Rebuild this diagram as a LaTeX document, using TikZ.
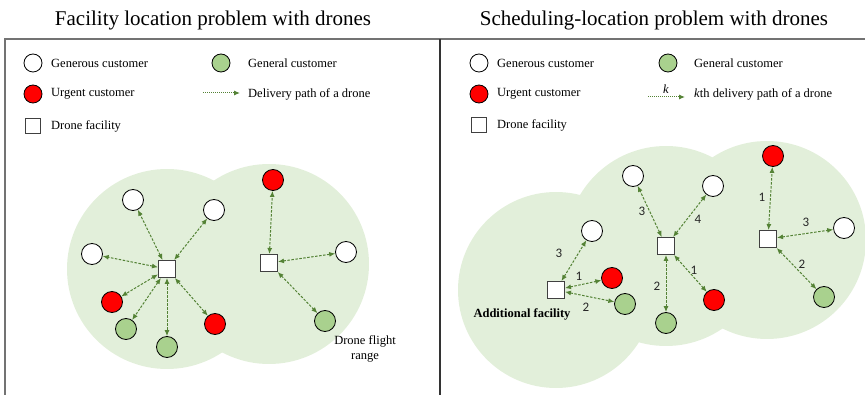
\documentclass[tikz,border=0pt]{standalone}
\usepackage{fontspec}
\setmainfont{Liberation Serif}
\newfontfamily\numfont{Carlito}
\usetikzlibrary{arrows.meta}
\definecolor{rangeg}{HTML}{E2EFDA}
\definecolor{genc}{HTML}{A9D18E}
\definecolor{pathc}{HTML}{548235}
\definecolor{urgc}{HTML}{FF0000}
\begin{document}
\begin{tikzpicture}[x=1pt,y=-1pt,
  cust/.style={circle,draw=black,line width=0.8pt,minimum size=21pt,inner sep=0pt},
  gen/.style={cust,fill=white},
  urg/.style={cust,fill=urgc},
  grl/.style={cust,fill=genc},
  lgen/.style={gen,minimum size=18pt},
  lurg/.style={urg,minimum size=18pt},
  lgrl/.style={grl,minimum size=18pt},
  fac/.style={rectangle,draw=black!75,line width=1pt,fill=white,minimum size=17pt,inner sep=0pt},
  lfac/.style={fac,minimum size=15pt},
  route/.style={pathc,line width=1pt,dash pattern=on 2.5pt off 1.5pt,{Latex[length=6pt,width=5pt]}-{Latex[length=6pt,width=5pt]}},
  lroute/.style={pathc,line width=1pt,dash pattern=on 1pt off 1pt,-{Latex[length=6pt,width=5pt]}},
  lbl/.style={font=\fontsize{12.5}{15}\selectfont,anchor=west,inner sep=0pt},
  num/.style={font=\numfont\fontsize{13}{15}\selectfont,text=black!85,inner sep=0pt},
  ttl/.style={font=\fontsize{21}{24}\selectfont,inner sep=0pt},
]
\useasboundingbox (0,0) rectangle (865,395);
% frame
\draw[black!55,line width=1.5pt] (5,395) -- (5,39) -- (865,39);
\draw[black!80,line width=1.2pt] (440,39) -- (440,395);
% titles
\node[ttl] (t1) at (213,20) {Facility location problem with drones};
\node[ttl] (t2) at (654,20) {Scheduling-location problem with drones};
% ranges
\fill[rangeg] (167,269) circle (100pt);
\fill[rangeg] (269,264) circle (100pt);
\fill[rangeg] (556,290) circle (98pt);
\fill[rangeg] (666,246) circle (100pt);
\fill[rangeg] (767,240) circle (99pt);
% legend left
\node[lgen] (lg1) at (33,63) {};
\node[lbl] (lt1) at (51,63) {Generous customer};
\node[lgrl] (lg2) at (221,63) {};
\node[lbl] (lt2) at (248,63) {General customer};
\node[lurg] (lg3) at (33,94) {};
\node[lbl] (lt3) at (51,94) {Urgent customer};
\coordinate (la1) at (203,93);
\coordinate (la2) at (240,93);
\draw[lroute] (la1) -- (la2);
\node[lbl] (lt4) at (248,94) {Delivery path of a drone};
\node[lfac] (lg5) at (33,126) {};
\node[lbl] (lt5) at (51,126) {Drone facility};
% legend right
\node[lgen] (rg1) at (479,63) {};
\node[lbl] (rt1) at (497,63) {Generous customer};
\node[lgrl] (rg2) at (668,63) {};
\node[lbl] (rt2) at (694,63) {General customer};
\node[lurg] (rg3) at (479,94) {};
\node[lbl] (rt3) at (497,94) {Urgent customer};
\coordinate (ra1) at (648,97);
\coordinate (ra2) at (685,97);
\draw[lroute] (ra1) -- (ra2);
\node[lbl,anchor=center] (rk) at (666,89) {\itshape k};
\node[lbl] (rt4) at (694,94) {\textit{k}th delivery path of a drone};
\node[lfac] (rg5) at (479,125) {};
\node[lbl] (rt5) at (497,125) {Drone facility};
% left diagram
\node[fac] (F1) at (167,269) {};
\node[gen] (a1) at (133,200) {};
\node[gen] (a2) at (214,210) {};
\node[gen] (a3) at (92,254) {};
\node[urg] (r1) at (112,302) {};
\node[grl] (g1) at (126,329) {};
\node[grl] (g2) at (167,347) {};
\node[urg] (r2) at (215,324) {};
\node[fac] (F2) at (269,263) {};
\node[urg] (r3) at (273,180) {};
\node[gen] (a4) at (346,252) {};
\node[grl] (g3) at (325,321) {};
\foreach \n in {a1,a2,a3,r1,g1,g2,r2} \draw[route] (F1) -- (\n);
\foreach \n in {r3,a4,g3} \draw[route] (F2) -- (\n);
\node[lbl,anchor=center,align=center] (dfr) at (365,349) {Drone flight\\range};
% right diagram
\node[fac] (F3) at (556,290) {};
\node[gen] (b1) at (592,231) {};
\node[urg] (b2) at (612,278) {};
\node[grl] (b3) at (625,304) {};
\node[fac] (F4) at (666,246) {};
\node[gen] (b4) at (633,176) {};
\node[gen] (b5) at (713,186) {};
\node[urg] (b6) at (714,300) {};
\node[grl] (b7) at (666,323) {};
\node[fac] (F5) at (768,239) {};
\node[urg] (b8) at (773,156) {};
\node[gen] (b9) at (844,228) {};
\node[grl] (b10) at (824,297) {};
\foreach \n in {b1,b2,b3} \draw[route] (F3) -- (\n);
\foreach \n in {b4,b5,b6,b7} \draw[route] (F4) -- (\n);
\foreach \n in {b8,b9,b10} \draw[route] (F5) -- (\n);
\node[num] (n1) at (559,253) {3};
\node[num] (n2) at (579,276) {1};
\node[num] (n3) at (586,307) {2};
\node[num] (n4) at (642,211) {3};
\node[num] (n5) at (698,219) {4};
\node[num] (n6) at (694,270) {1};
\node[num] (n7) at (657,286) {2};
\node[num] (n8) at (762,197) {1};
\node[num] (n9) at (806,222) {3};
\node[num] (n10) at (802,264) {2};
\node[lbl,anchor=center,font=\fontsize{12.5}{15}\selectfont\bfseries] (addf) at (522,314) {Additional facility};
\end{tikzpicture}
\end{document}
